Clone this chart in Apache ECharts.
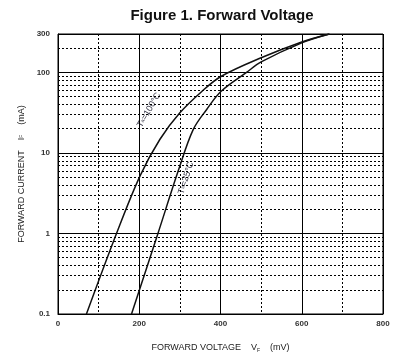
<!DOCTYPE html>
<html><head><meta charset="utf-8">
<script src="https://cdn.jsdelivr.net/npm/echarts@6/dist/echarts.min.js"></script>
<style>html,body{margin:0;padding:0;background:#fff}#c{width:405px;height:358px}</style>
</head><body><div id="c"></div>
<script>
// Data
const xTicks = [0, 200, 400, 600, 800];
const yTicks = [0.1, 1, 10, 100, 300];
const minorY = [0.2,0.3,0.4,0.5,0.6,0.7,0.8,0.9,2,3,4,5,6,7,8,9,20,30,40,50,60,70,80,90,200];
const t100V = [70, 144, 202, 251, 300, 354, 401, 500, 600, 668];
const t100I = [0.1, 1, 5.2, 14.8, 31.5, 58, 89, 152, 239, 300];
const t25V  = [181, 246, 296, 333, 366, 401, 464, 500, 600, 668];
const t25I  = [0.1, 1, 6.0, 19.6, 34.7, 58, 100, 135, 233, 300];

const pair = (xs, ys) => xs.map((x, i) => [x, ys[i]]);
const font = 'Liberation Sans, Arial, sans-serif';
const chart = echarts.init(document.getElementById('c'), null, {renderer: 'canvas'});
chart.setOption({
  animation: false,
  title: {text: 'Figure 1. Forward Voltage', left: 217, top: 3, textAlign: 'center',
    textStyle: {fontFamily: font, fontSize: 15, fontWeight: 'bold', color: '#111'}},
  grid: {left: 58, right: 22, top: 34, bottom: 42, show: true, borderColor: '#000', borderWidth: 1},
  xAxis: {type: 'value', min: xTicks[0], max: xTicks[xTicks.length-1], interval: 200,
    name: 'FORWARD VOLTAGE    V{s|F}    (mV)', nameLocation: 'middle', nameGap: 28,
    nameTextStyle: {fontFamily: font, fontSize: 9, color: '#222', rich: {s: {fontSize: 5, verticalAlign: 'bottom', padding: [6,0,0,0], fontFamily: font, color: '#222'}}},
    axisLine: {lineStyle: {color: '#000'}}, axisTick: {show: false},
    axisLabel: {fontFamily: font, fontSize: 8, fontWeight: 'bold', color: '#333', margin: 6},
    splitLine: {show: true, lineStyle: {color: '#000', width: 1}},
    minorTick: {show: false, splitNumber: 2},
    minorSplitLine: {show: true, lineStyle: {color: '#000', width: 1, type: [2, 2]}}},
  yAxis: {type: 'log', min: yTicks[0], max: yTicks[yTicks.length-1], logBase: 10,
    name: 'FORWARD CURRENT    I{s|F}    (mA)', nameLocation: 'middle', nameGap: 31, nameRotate: 90,
    nameTextStyle: {fontFamily: font, fontSize: 9, color: '#222', rich: {s: {fontSize: 5, fontFamily: font, color: '#222'}}},
    axisLine: {lineStyle: {color: '#000'}}, axisTick: {show: false},
    axisLabel: {fontFamily: font, fontSize: 8, fontWeight: 'bold', color: '#333', margin: 8,
      formatter: v => { const r = Math.round(v*10)/10; return yTicks.includes(r) ? String(r) : ''; }},
    splitLine: {show: true, lineStyle: {color: '#000', width: 1}}},
  series: [
    {type: 'line', data: pair(t100V, t100I), smooth: 0.35, symbol: 'none',
     lineStyle: {color: '#111', width: 1.5},
     markLine: {silent: true, symbol: 'none', label: {show: false},
       lineStyle: {color: '#000', width: 1, type: [2, 2]},
       data: minorY.map(v => ({yAxis: v}))}},
    {type: 'line', data: pair(t25V, t25I), smooth: 0.35, symbol: 'none',
     lineStyle: {color: '#111', width: 1.5}}
  ],
  graphic: [
    {type: 'text', x: 149, y: 110, rotation: 60 * Math.PI / 180,
     style: {text: 'T{s|a}=100°C', fill: '#334', font: '9px ' + font, align: 'center', verticalAlign: 'middle',
       rich: {s: {fontSize: 5, fill: '#334'}}}},
    {type: 'text', x: 186, y: 178, rotation: 72 * Math.PI / 180,
     style: {text: 'T{s|a}=25°C', fill: '#334', font: '9px ' + font, align: 'center', verticalAlign: 'middle',
       rich: {s: {fontSize: 5, fill: '#334'}}}}
  ]
});
</script></body></html>
